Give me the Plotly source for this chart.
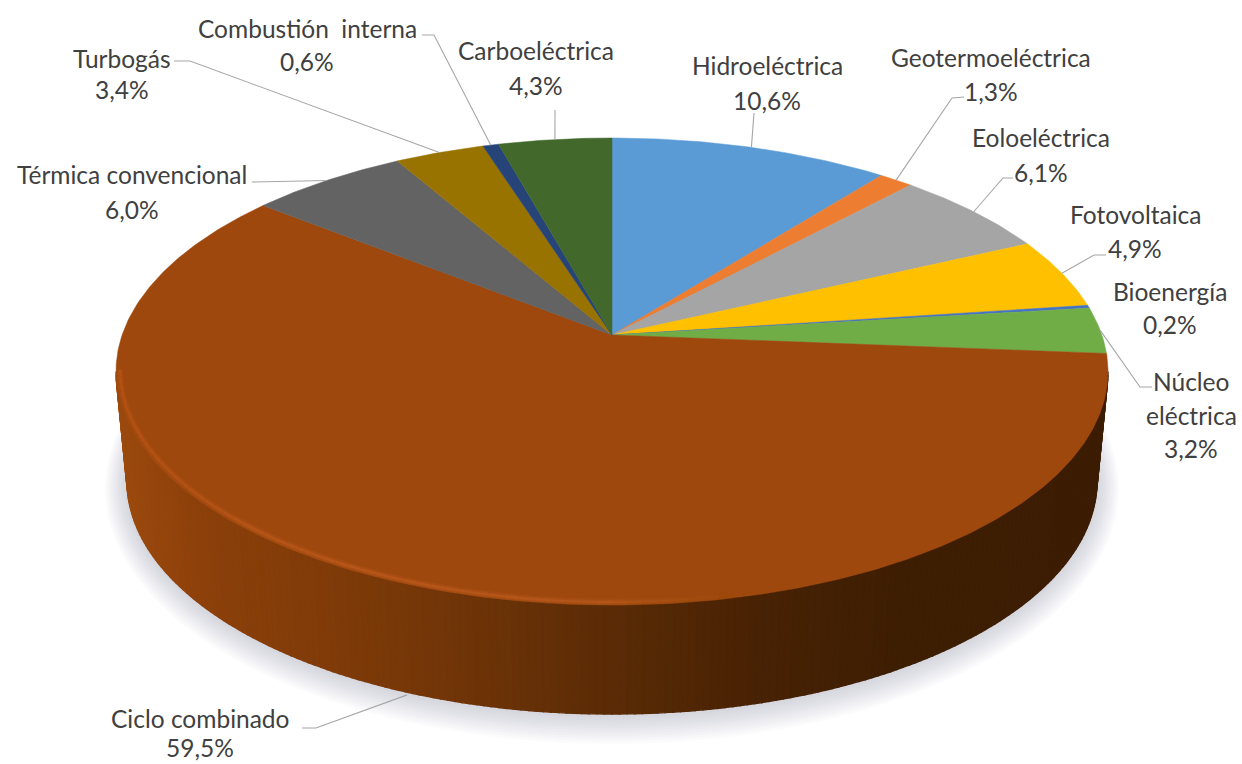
import math
import plotly.graph_objects as go

# Share of installed capacity by technology, clockwise from twelve o'clock
technologies = ["Hidroeléctrica", "Geotermoeléctrica", "Eoloeléctrica", "Fotovoltaica", "Bioenergía",
                "Núcleo eléctrica", "Ciclo combinado", "Térmica convencional", "Turbogás",
                "Combustión interna", "Carboeléctrica"]
shares = [10.6, 1.3, 6.1, 4.9, 0.2, 3.2, 59.5, 6.0, 3.4, 0.6, 4.3]
slice_colors = ["#5b9bd5", "#ed7d31", "#a5a5a5", "#ffc000", "#4472c4", "#70ad47",
                "#9e480e", "#636363", "#997300", "#264478", "#43682b"]

# How each label breaks over lines, and where its block sits (centre x, row y per line)
label_lines = [["Hidroeléctrica"], ["Geotermoeléctrica"], ["Eoloeléctrica"], ["Fotovoltaica"], ["Bioenergía"],
               ["Núcleo", "eléctrica"], ["Ciclo combinado"], ["Térmica convencional"], ["Turbogás"],
               ["Combustión  interna"], ["Carboeléctrica"]]
label_x = [767, 991, 1041, 1135, 1170, 1191, 200, 132, 122, 307, 536]
label_y = [[65, 100], [57, 91], [137, 172], [214, 248], [291, 324], [381, 415, 448],
           [718, 747], [174, 209], [58, 89], [28, 61], [50, 85]]

# Leader elbows near each label; the far end is computed on the slice rim
leader_elbows = [[(754, 113)], [(964, 97), (952, 98)], [(1013, 178), (1003, 178)],
                 [(1106, 255), (1094, 255)], [], [(1152, 387), (1140, 387)],
                 [(302, 728), (316, 728)], [(252, 182)], [(174, 61), (190, 61)],
                 [(422, 35), (434, 35)], [(555, 110)]]

# Tilted disc: a perspective projection of the unit circle
CX, CY, K, A, B = 612.0, 335.0, 0.1563, 489.9, 227.8
# Outline ellipses of the top face and of the base
TOP = (612.0, 371.5, 496.0, 233.5)
BEVEL = (612.0, 369.5, 492.0, 232.5)
BASE = (612.0, 481.0, 485.0, 233.0)
TEXT_COLOR = "#404040"
LEADER_COLOR = "#a6a6a6"
WALL_HEIGHT = 109.0


def project(angle):
    u, v = math.sin(angle), math.cos(angle)
    d = 1 + K * v
    return CX + A * u / d, CY - B * v / d


def ring(ell, t):
    return ell[0] + ell[2] * math.cos(t), ell[1] + ell[3] * math.sin(t)


def lerp_color(stops, x):
    for (x0, c0), (x1, c1) in zip(stops, stops[1:]):
        if x <= x1:
            f = max(0.0, (x - x0) / (x1 - x0))
            return tuple(a + (b - a) * f for a, b in zip(c0, c1))
    return stops[-1][1]


def rgb(c, alpha=None):
    r, g, b = (int(round(p)) for p in c)
    return f"rgb({r},{g},{b})" if alpha is None else f"rgba({r},{g},{b},{alpha})"


wall_stops = [(116, (156, 74, 14)), (200, (140, 64, 10)), (400, (120, 56, 8)), (600, (92, 44, 6)),
              (760, (72, 34, 4)), (900, (62, 30, 3)), (1110, (60, 29, 3))]
rim_stops = [(116, (186, 86, 24)), (400, (192, 92, 32)), (600, (186, 90, 30)), (730, (156, 74, 11))]

fig = go.Figure()


def add_fill(xs, ys, color, line_width=0.8):
    fig.add_trace(go.Scatter(x=xs, y=ys, mode="lines", fill="toself", fillcolor=color,
                             line=dict(color=color, width=line_width),
                             hoverinfo="skip", showlegend=False))


# Soft shadow: stacked translucent ellipses spreading out from the base
for d in range(26, 0, -2):
    pts = [(BASE[0] + (BASE[2] + d - 4) * math.cos(i * math.pi / 90),
            BASE[1] + d * 0.3 + (BASE[3] + d - 4) * math.sin(i * math.pi / 90)) for i in range(181)]
    add_fill([p[0] for p in pts], [p[1] for p in pts], "rgba(130,150,160,0.035)", 0)

# Side wall: narrow strips along the front, shaded from left to right
STRIPS = 200
for i in range(STRIPS):
    t0 = math.pi * (1 - i / STRIPS)
    t1 = math.pi * (1 - (i + 1) / STRIPS)
    a, b = ring(TOP, t0), ring(TOP, t1)
    c, e = ring(BASE, t1), ring(BASE, t0)
    col = rgb(lerp_color(wall_stops, (a[0] + b[0]) / 2))
    add_fill([a[0], b[0], c[0], e[0], a[0]], [a[1], b[1], c[1], e[1], a[1]], col, 1.4)

# Top face: one wedge per technology, angles taken from the shares
total = sum(shares)
start = 0.0
mid_angles = []
for share, color in zip(shares, slice_colors):
    sweep = share / total * 2 * math.pi
    n = max(2, int(share * 6))
    arc = [project(start + sweep * j / n) for j in range(n + 1)]
    xs = [CX] + [p[0] for p in arc] + [CX]
    ys = [CY] + [p[1] for p in arc] + [CY]
    add_fill(xs, ys, color, 0.5)
    mid_angles.append(start + sweep / 2)
    start += sweep

# Bevel along the front edge of the top face, fading out past the centre
BEVEL_STEPS = 100
for i in range(BEVEL_STEPS):
    t0 = math.pi * (1 - i / BEVEL_STEPS)
    t1 = math.pi * (1 - (i + 1) / BEVEL_STEPS)
    a, b = ring(BEVEL, t0), ring(BEVEL, t1)
    xm = (a[0] + b[0]) / 2
    if xm > 730:
        continue
    base = lerp_color(rim_stops, xm)
    for width, alpha in ((7, 0.22), (4, 0.35), (2, 0.5)):
        fig.add_trace(go.Scatter(x=[a[0], b[0]], y=[a[1], b[1]], mode="lines",
                                 line=dict(color=rgb(base, alpha), width=width),
                                 hoverinfo="skip", showlegend=False))

# Leader lines from the labels to the slice rims
for name, elbows, angle in zip(technologies, leader_elbows, mid_angles):
    if not elbows:
        continue
    end = project(angle)
    if name == "Ciclo combinado":
        end = (end[0] + 6, end[1] + WALL_HEIGHT + 3)
    path = elbows + [end]
    fig.add_trace(go.Scatter(x=[p[0] for p in path], y=[p[1] for p in path], mode="lines",
                             line=dict(color=LEADER_COLOR, width=1.1),
                             hoverinfo="skip", showlegend=False))

# Labels: name lines followed by the share written with a decimal comma
annotations = []
for lines, share, x, rows in zip(label_lines, shares, label_x, label_y):
    texts = lines + [f"{share:.1f}%".replace(".", ",")]
    for text, y in zip(texts, rows):
        annotations.append(dict(x=x, y=y, text=text, showarrow=False, xanchor="center", yanchor="middle",
                                font=dict(family="Lato", size=24.5, color=TEXT_COLOR)))

fig.update_layout(
    width=1242, height=764, margin=dict(l=0, r=0, t=0, b=0), autosize=False,
    paper_bgcolor="white", plot_bgcolor="white", showlegend=False, annotations=annotations,
    xaxis=dict(range=[0, 1242], visible=False, fixedrange=True),
    yaxis=dict(range=[764, 0], visible=False, fixedrange=True),
)
fig.write_html("out.html", config={"displayModeBar": False})
